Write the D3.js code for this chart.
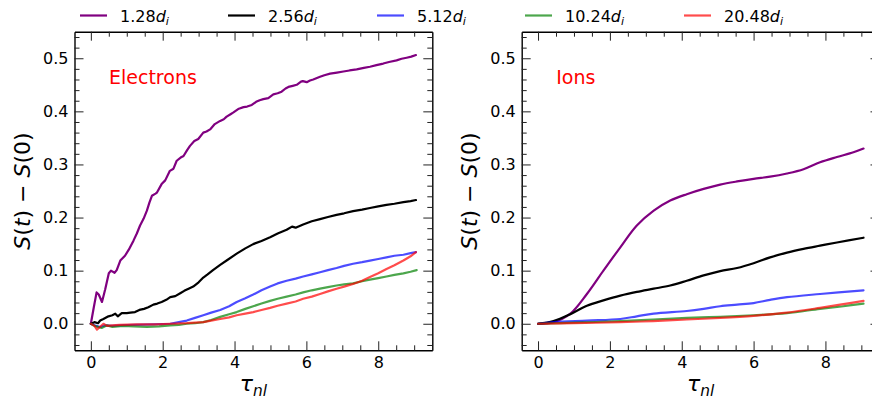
<!DOCTYPE html>
<html>
<head>
<meta charset="utf-8">
<script src="https://cdn.jsdelivr.net/npm/d3@7"></script>
<style>
  body { margin: 0; background: #fff; }
  svg { display: block; font-family: "DejaVu Sans", sans-serif; }
</style>
</head>
<body>
<svg id="chart" width="872" height="403"></svg>
<script>
// series names / colours
const seriesNames = ["1.28", "2.56", "5.12", "10.24", "20.48"];
const seriesColors = ["#800080", "#000000", "#0000ff", "#008000", "#ff0000"];
const seriesAlpha = [1, 1, 0.7, 0.7, 0.7];

const xTicks = [0, 2, 4, 6, 8];
const yTicks = [0.0, 0.1, 0.2, 0.3, 0.4, 0.5];

// Electrons, [tau_nl, S(t)-S(0)]
const elec128 = [[0,0],[0.08,0.03],[0.16,0.059],[0.22,0.055],[0.31,0.041],[0.40,0.065],[0.50,0.095],[0.56,0.1],[0.66,0.096],[0.72,0.101],[0.82,0.119],[0.95,0.128],[1.06,0.14],[1.19,0.157],[1.28,0.17],[1.37,0.185],[1.47,0.198],[1.56,0.213],[1.63,0.228],[1.70,0.241],[1.80,0.245],[1.84,0.247],[1.97,0.263],[2.07,0.27],[2.20,0.288],[2.30,0.292],[2.39,0.307],[2.50,0.313],[2.58,0.316],[2.68,0.327],[2.76,0.335],[2.88,0.344],[2.99,0.348],[3.13,0.36],[3.22,0.362],[3.32,0.366],[3.45,0.376],[3.60,0.382],[3.70,0.385],[3.78,0.39],[3.90,0.395],[3.97,0.398],[4.12,0.405],[4.25,0.408],[4.35,0.409],[4.48,0.412],[4.60,0.418],[4.70,0.421],[4.80,0.423],[4.94,0.425],[5.08,0.432],[5.20,0.434],[5.31,0.437],[5.42,0.443],[5.50,0.446],[5.62,0.448],[5.73,0.45],[5.85,0.456],[5.90,0.457],[6.01,0.455],[6.10,0.458],[6.19,0.46],[6.38,0.465],[6.50,0.468],[6.66,0.471],[6.85,0.473],[7.03,0.475],[7.20,0.477],[7.40,0.479],[7.60,0.482],[7.77,0.484],[7.95,0.487],[8.14,0.49],[8.30,0.493],[8.51,0.496],[8.65,0.499],[8.79,0.501],[8.92,0.503],[9.05,0.506]];
const elec256 = [[0,0],[0.1,0.003],[0.2,0.001],[0.26,0.006],[0.35,0.009],[0.49,0.014],[0.6,0.016],[0.68,0.019],[0.75,0.014],[0.86,0.02],[1.0,0.02],[1.1,0.021],[1.23,0.022],[1.35,0.026],[1.48,0.028],[1.6,0.031],[1.74,0.036],[1.85,0.038],[1.97,0.041],[2.1,0.045],[2.21,0.05],[2.35,0.052],[2.5,0.058],[2.6,0.062],[2.72,0.066],[2.85,0.07],[3.0,0.078],[3.13,0.087],[3.25,0.093],[3.4,0.101],[3.6,0.111],[3.8,0.12],[4.06,0.132],[4.3,0.142],[4.52,0.15],[4.75,0.156],[4.99,0.163],[5.2,0.17],[5.45,0.177],[5.6,0.183],[5.7,0.181],[5.91,0.187],[6.15,0.193],[6.38,0.197],[6.6,0.201],[6.84,0.205],[7.05,0.208],[7.3,0.212],[7.55,0.215],[7.77,0.218],[8.0,0.221],[8.23,0.224],[8.45,0.226],[8.7,0.229],[8.9,0.231],[9.05,0.233]];
const elec512 = [[0,0],[0.1,-0.003],[0.26,-0.006],[0.4,-0.003],[0.6,-0.004],[0.82,-0.003],[1.2,-0.002],[1.74,-0.001],[2.21,0.0],[2.45,0.003],[2.67,0.006],[2.9,0.011],[3.13,0.016],[3.35,0.021],[3.6,0.026],[3.85,0.033],[4.06,0.041],[4.3,0.048],[4.52,0.055],[4.75,0.063],[4.99,0.07],[5.2,0.076],[5.45,0.081],[5.7,0.085],[5.91,0.089],[6.15,0.093],[6.38,0.097],[6.6,0.101],[6.84,0.105],[7.05,0.109],[7.3,0.113],[7.55,0.116],[7.77,0.119],[8.0,0.122],[8.23,0.125],[8.45,0.128],[8.7,0.13],[8.9,0.133],[9.05,0.135]];
const elec1024 = [[0,0],[0.1,-0.004],[0.3,-0.008],[0.45,-0.003],[0.6,-0.006],[0.9,-0.004],[1.2,-0.005],[1.56,-0.006],[1.9,-0.005],[2.21,-0.003],[2.45,-0.002],[2.67,0.0],[2.9,0.001],[3.13,0.003],[3.35,0.007],[3.6,0.013],[3.85,0.018],[4.06,0.022],[4.3,0.028],[4.52,0.033],[4.75,0.038],[4.99,0.043],[5.2,0.047],[5.45,0.051],[5.7,0.055],[5.91,0.059],[6.15,0.063],[6.38,0.066],[6.6,0.069],[6.84,0.072],[7.05,0.074],[7.3,0.076],[7.55,0.08],[7.77,0.083],[8.0,0.086],[8.23,0.089],[8.45,0.092],[8.7,0.095],[8.9,0.098],[9.07,0.101]];
const elec2048 = [[0,0],[0.1,-0.004],[0.17,-0.011],[0.25,-0.006],[0.35,0.0],[0.45,-0.004],[0.6,-0.003],[0.8,-0.002],[1.28,-0.001],[1.8,-0.001],[2.21,0.0],[2.67,0.001],[3.13,0.003],[3.35,0.006],[3.6,0.009],[3.85,0.012],[4.06,0.016],[4.3,0.019],[4.52,0.022],[4.75,0.026],[4.99,0.03],[5.2,0.034],[5.45,0.038],[5.7,0.042],[5.91,0.047],[6.15,0.051],[6.38,0.056],[6.6,0.061],[6.84,0.066],[7.05,0.07],[7.3,0.075],[7.55,0.081],[7.77,0.088],[8.0,0.095],[8.23,0.103],[8.45,0.11],[8.7,0.119],[8.9,0.127],[9.05,0.135]];

// Ions
const ion128 = [[0,0],[0.43,0.003],[0.9,0.019],[1.36,0.056],[1.82,0.1],[2.29,0.144],[2.75,0.185],[3.22,0.213],[3.68,0.232],[4.14,0.244],[4.61,0.254],[5.07,0.262],[5.54,0.268],[6.0,0.273],[6.46,0.277],[6.93,0.283],[7.39,0.291],[7.85,0.304],[8.32,0.314],[8.78,0.323],[9.06,0.33]];
const ion256 = [[0,0],[0.43,0.005],[0.9,0.018],[1.36,0.034],[1.82,0.044],[2.29,0.053],[2.75,0.06],[3.22,0.066],[3.68,0.072],[4.14,0.081],[4.61,0.091],[5.07,0.099],[5.54,0.105],[6.0,0.114],[6.46,0.125],[6.93,0.134],[7.39,0.141],[7.85,0.147],[8.32,0.153],[9.06,0.162]];
const ion512 = [[0,0],[0.43,0.003],[1.36,0.006],[2.29,0.009],[2.75,0.014],[3.22,0.019],[4.14,0.024],[4.61,0.028],[5.07,0.033],[5.54,0.036],[6.0,0.039],[6.46,0.045],[6.93,0.05],[7.85,0.056],[9.06,0.063]];
const ion1024 = [[0,0],[1.0,0.002],[2.29,0.005],[3.2,0.008],[4.14,0.011],[5.07,0.013],[6.0,0.016],[6.93,0.02],[7.85,0.028],[8.5,0.033],[9.06,0.038]];
const ion2048 = [[0,0],[1.0,0.001],[2.29,0.003],[3.2,0.005],[4.14,0.008],[5.07,0.011],[6.0,0.015],[6.93,0.021],[7.85,0.03],[8.5,0.037],[9.06,0.043]];

const svg = d3.select("#chart");

const plotTop = 31.7, plotBottom = 350.3, panelW = 357.8;
const panels = [
  { left: 74.5, label: "Electrons", data: [elec128, elec256, elec512, elec1024, elec2048], curve: d3.curveLinear },
  { left: 521.7, label: "Ions", data: [ion128, ion256, ion512, ion1024, ion2048], curve: d3.curveCatmullRom.alpha(0.5) }
];

const xMinor = d3.range(1, 19).map(d => d * 0.5).filter(d => d % 2 !== 0);
const yMinor = d3.range(-2, 28).map(d => Math.round(d * 2) / 100).filter(d => Math.round(d * 100) % 10 !== 0);

panels.forEach(p => {
  const x = d3.scaleLinear().domain([-0.455, 9.505]).range([p.left, p.left + panelW]);
  const y = d3.scaleLinear().domain([-0.05, 0.55]).range([plotBottom, plotTop]);

  const g = svg.append("g");

  const line = d3.line()
    .x(d => x(d[0]))
    .y(d => y(d[1]))
    .curve(p.curve);

  p.data.forEach((s, i) => {
    g.append("path")
      .datum(s)
      .attr("fill", "none")
      .attr("stroke", seriesColors[i])
      .attr("stroke-opacity", seriesAlpha[i])
      .attr("stroke-width", 2.2)
      .attr("stroke-linejoin", "round")
      .attr("stroke-linecap", "round")
      .attr("d", line);
  });

  // axes, ticks pointing in on all four sides
  const fmtY = d3.format(".1f");
  const axes = [
    [d3.axisBottom(x).tickValues(xTicks).tickFormat(d3.format("d")), `translate(0,${plotBottom})`, true],
    [d3.axisTop(x).tickValues(xTicks).tickFormat(""), `translate(0,${plotTop})`, false],
    [d3.axisLeft(y).tickValues(yTicks).tickFormat(fmtY), `translate(${p.left},0)`, true],
    [d3.axisRight(y).tickValues(yTicks).tickFormat(""), `translate(${p.left + panelW},0)`, false]
  ];
  axes.forEach(([ax, tr, lab]) => {
    const a = g.append("g")
      .attr("transform", tr)
      .call(ax.tickSizeInner(-9).tickSizeOuter(0).tickPadding(lab ? 6 : 0));
    a.selectAll(".domain").attr("stroke", "#000").attr("stroke-width", 1.4);
    a.selectAll(".tick line").attr("stroke", "#222");
    a.selectAll("text").attr("font-size", 16).attr("font-family", "DejaVu Sans").attr("fill", "#000");
  });
  const minors = [
    [d3.axisBottom(x).tickValues(xMinor), `translate(0,${plotBottom})`],
    [d3.axisTop(x).tickValues(xMinor), `translate(0,${plotTop})`],
    [d3.axisLeft(y).tickValues(yMinor), `translate(${p.left},0)`],
    [d3.axisRight(y).tickValues(yMinor), `translate(${p.left + panelW},0)`]
  ];
  minors.forEach(([ax, tr]) => {
    const a = g.append("g")
      .attr("transform", tr)
      .call(ax.tickSizeInner(-5).tickSizeOuter(0).tickFormat(""));
    a.select(".domain").remove();
    a.selectAll(".tick line").attr("stroke", "#222");
  });

  // y label  S(t) - S(0)
  const yl = g.append("text")
    .attr("transform", `translate(${p.left - 45},${(plotTop + plotBottom) / 2}) rotate(-90)`)
    .attr("text-anchor", "middle")
    .attr("font-size", 22)
    .attr("fill", "#000");
  yl.append("tspan").attr("font-style", "italic").text("S");
  yl.append("tspan").text("(");
  yl.append("tspan").attr("font-style", "italic").text("t");
  yl.append("tspan").text(") \u2212 ");
  yl.append("tspan").attr("font-style", "italic").text("S");
  yl.append("tspan").text("(0)");

  // x label tau_nl
  const xl = g.append("text")
    .attr("x", p.left + panelW / 2)
    .attr("y", 391)
    .attr("text-anchor", "middle")
    .attr("font-size", 22)
    .attr("font-style", "italic")
    .attr("fill", "#000");
  xl.append("tspan").text("\u03c4");
  xl.append("tspan").attr("font-size", 15.4).attr("dy", 5).text("nl");

  g.append("text")
    .attr("x", p.left + 34.5)
    .attr("y", 84)
    .attr("font-size", 19)
    .attr("fill", "#ff0000")
    .text(p.label);
});

// legend across the top
const legendX = [80, 228, 377, 525, 684];
const legend = svg.append("g");
seriesNames.forEach((name, i) => {
  const lx = legendX[i];
  legend.append("line")
    .attr("x1", lx).attr("x2", lx + 27)
    .attr("y1", 15.5).attr("y2", 15.5)
    .attr("stroke", seriesColors[i])
    .attr("stroke-opacity", seriesAlpha[i])
    .attr("stroke-width", 2.2);
  const t = legend.append("text")
    .attr("x", lx + 40)
    .attr("y", 21.5)
    .attr("font-size", 16)
    .attr("fill", "#000");
  t.append("tspan").text(name);
  t.append("tspan").attr("font-style", "italic").text("d");
  t.append("tspan").attr("font-style", "italic").attr("font-size", 11.2).attr("dy", 3.5).text("i");
});
</script>
</body>
</html>
